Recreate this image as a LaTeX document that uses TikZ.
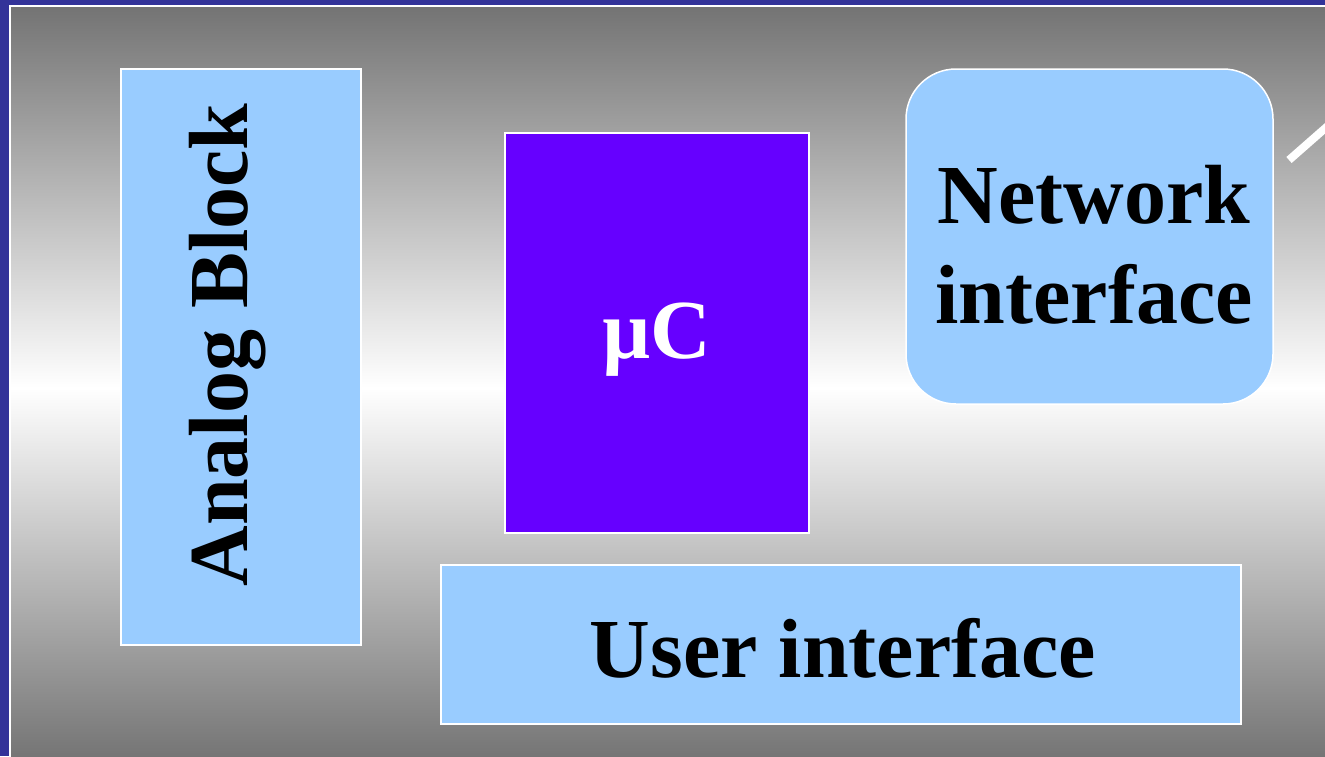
\documentclass[tikz,border=0pt]{standalone}
\usepackage{fontspec}
\setmainfont{Liberation Serif}
\usepackage{tikz}

\definecolor{frameblue}{HTML}{333399}
\definecolor{boxblue}{HTML}{99CCFF}
\definecolor{chipviolet}{HTML}{6600FF}
\definecolor{shadegray}{HTML}{737373}

\tikzset{
  block/.style={draw=white, line width=1.5pt, fill=boxblue},
  label/.style={font=\fontsize{84}{100}\selectfont\bfseries, align=center}
}

\begin{document}
\begin{tikzpicture}[x=1pt, y=-1pt]

\useasboundingbox (0,0) rectangle (1325,756);

% Frame
\fill[frameblue] (0,0) rectangle (1325,756);
\shade[top color=shadegray, bottom color=white] (9,5) rectangle (1330,388);
\shade[top color=white, bottom color=shadegray] (9,388) rectangle (1330,762);
\draw[white, line width=1.5pt] (10,762) -- (10,6) -- (1330,6);

% Antenna stub
\draw[white, line width=8pt] (1289,160) -- (1330,124);

%
% Blocks
%

% Analog block
\filldraw[block] (121,69) rectangle (361,645);
\path
(228,345) node [label, rotate=90] (analog) {Analog Block};

% Microcontroller
\filldraw[block, fill=chipviolet] (505,133) rectangle (809,533);
\path
(657,340) node [label, text=white] (uc) {µC};

% Network interface
\filldraw[block, rounded corners=50pt] (906,69) rectangle (1273,404);
\path
(1094,245) node [label] (net) {Network\\interface};

% User interface
\filldraw[block] (441,565) rectangle (1241,724);
\path
(843,648) node [label] (user) {User interface};

\end{tikzpicture}
\end{document}
